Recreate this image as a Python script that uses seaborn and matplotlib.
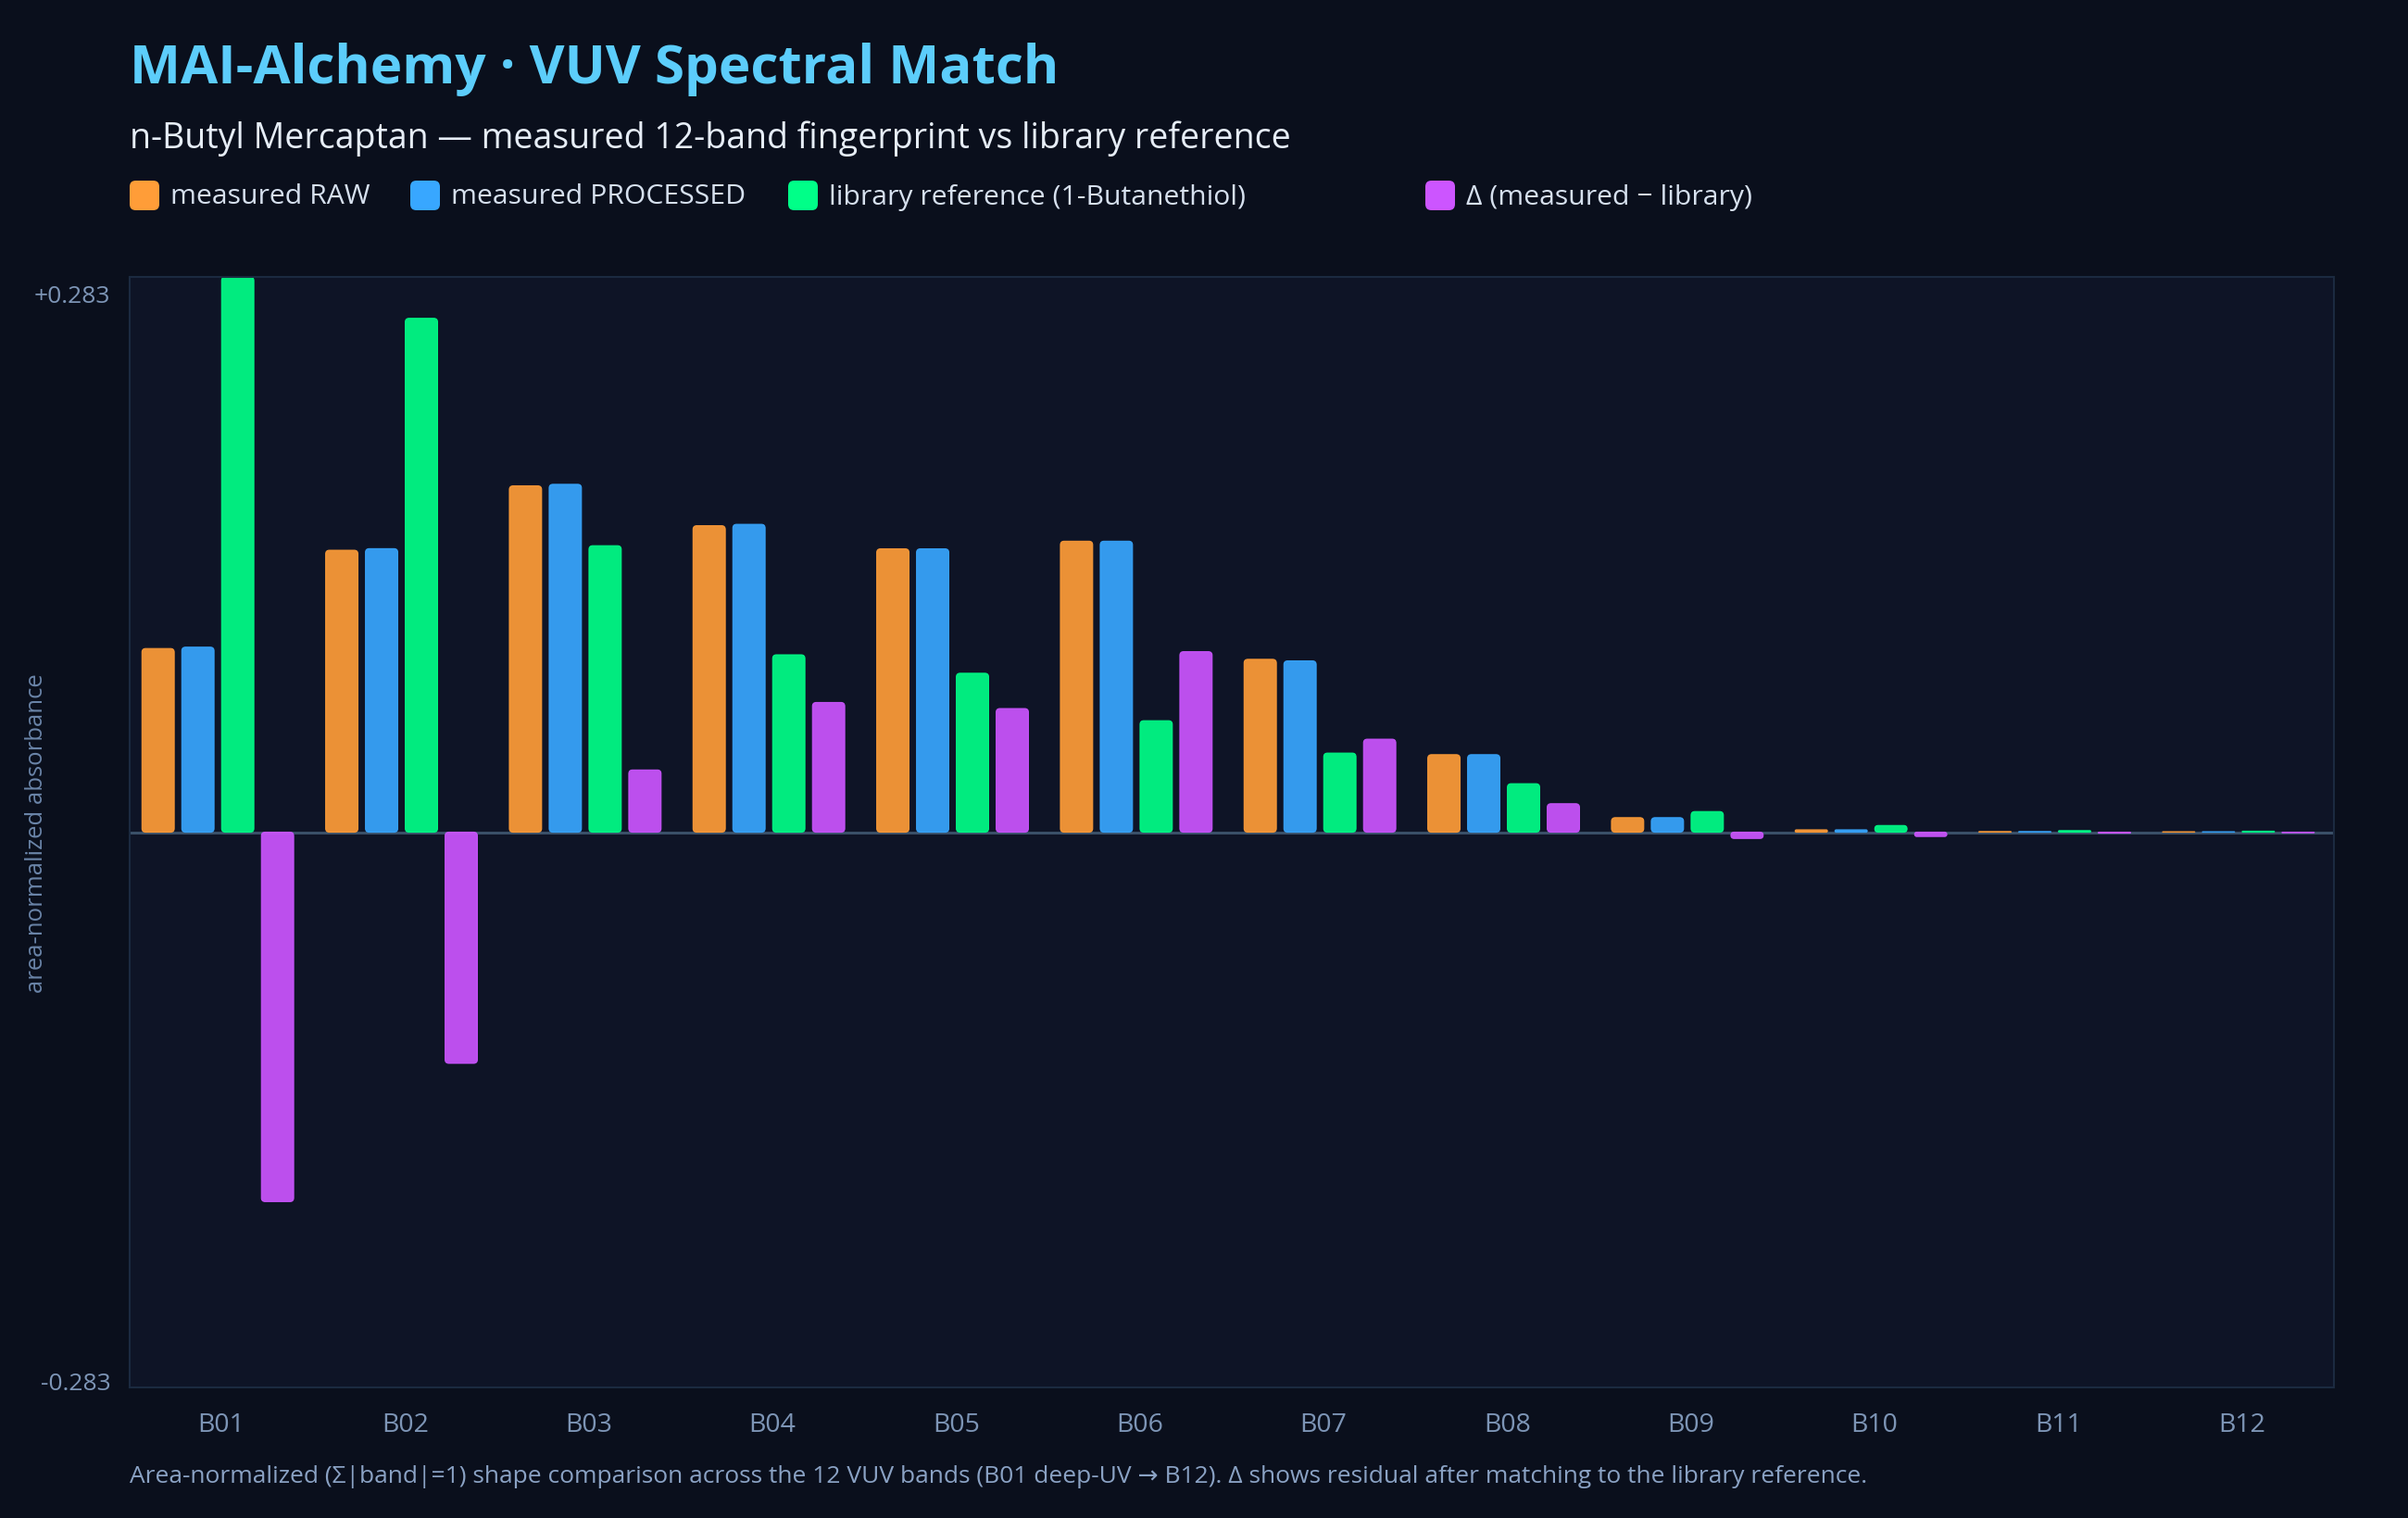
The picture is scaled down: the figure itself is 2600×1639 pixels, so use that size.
import numpy as np
import pandas as pd
import seaborn as sns
import matplotlib.pyplot as plt
from matplotlib.patches import FancyBboxPatch
from matplotlib.transforms import ScaledTranslation

# values
bands = ["B01", "B02", "B03", "B04", "B05", "B06", "B07", "B08", "B09", "B10", "B11", "B12"]
measured_raw = [0.0936, 0.1437, 0.1765, 0.1562, 0.1444, 0.1483, 0.0881, 0.0395, 0.0074, 0.0012, 0.0003, 0.0002]
measured_processed = [0.0943, 0.1445, 0.1773, 0.1569, 0.1444, 0.1483, 0.0873, 0.0395, 0.0074, 0.0012, 0.0003, 0.0002]
library_ref = [0.2830, 0.2619, 0.1460, 0.0904, 0.0810, 0.0568, 0.0403, 0.0247, 0.0105, 0.0034, 0.0008, 0.0005]
delta = [-0.1883, -0.1178, 0.0317, 0.0661, 0.0630, 0.0920, 0.0474, 0.0145, -0.0032, -0.0022, -0.0005, -0.0003]

series_names = ["measured RAW", "measured PROCESSED",
                "library reference (1-Butanethiol)", "\u0394 (measured \u2212 library)"]
series_colors = ["#ff9d38", "#38a7ff", "#00ff88", "#cc55ff"]
y_max = 0.283

BG = "#0a0f1c"
AX_BG = "#0e1426"
FONT = ["Open Sans", "DejaVu Sans"]

df = pd.DataFrame({
    "band": bands * 4,
    "value": measured_raw + measured_processed + library_ref + delta,
    "series": sum([[s] * len(bands) for s in series_names], []),
})

sns.set_theme(style="dark", rc={"axes.facecolor": AX_BG, "figure.facecolor": BG})
plt.rcParams["font.family"] = FONT

fig = plt.figure(figsize=(26, 16.4), dpi=100)
ax = fig.add_axes([140 / 2600, 1 - 1499 / 1640, 2380 / 2600, 1199 / 1640])

ax.axhline(0, color="#3a5068", lw=2.2, zorder=1.5)

sns.barplot(data=df, x="band", y="value", hue="series", hue_order=series_names,
            palette=series_colors, saturation=1, width=0.867, gap=0.19, alpha=0.92,
            legend=False, ax=ax, zorder=2)

ax.set_xlim(-0.5, len(bands) - 0.5)
ax.set_ylim(-y_max, y_max)

# rounded bar corners (radius ~4px), groups sit a touch left of the tick
x_per_px = len(bands) / 2380
y_per_px = 2 * y_max / 1199
aspect = y_per_px / x_per_px
r_px = 4
shift = -0.02
for p in list(ax.patches):
    x, y = p.get_x() + shift, p.get_y()
    w, h = p.get_width(), p.get_height()
    y0 = min(y, y + h)
    h = abs(h)
    r = min(r_px * x_per_px, w / 2, h / aspect / 2)
    fb = FancyBboxPatch((x, y0), w, h, boxstyle=f"round,pad=0,rounding_size={r}",
                        mutation_aspect=aspect, facecolor=p.get_facecolor(),
                        edgecolor=p.get_facecolor(), lw=0.8, zorder=2)
    p.remove()
    ax.add_patch(fb)

for s in ax.spines.values():
    s.set_color("#1b2a40")
    s.set_linewidth(1.5)

ax.set_yticks([-y_max, y_max])
ax.set_yticklabels([f"-{y_max:.3f}", f"+{y_max:.3f}"])
ax.tick_params(axis="y", length=0, pad=15, labelsize=19, labelcolor="#7d95b6")
ax.tick_params(axis="x", length=0, pad=19, labelsize=20.5, labelcolor="#7d95b6")
nudge = ScaledTranslation(0, -0.08, fig.dpi_scale_trans)
for tick, va in zip(ax.yaxis.get_major_ticks(), ["bottom", "top"]):
    tick.label1.set_va(va)
    tick.label1.set_transform(tick.label1.get_transform() + nudge)
ax.set_xlabel("")
ax.set_ylabel("area-normalized absorbance", fontsize=18.5, color="#6a84a8")
ax.yaxis.set_label_coords(-100 / 2380, 0.5)
ax.yaxis.label.set_va("center")
ax.grid(False)

# header
fig.text(140 / 2600, 1 - 75 / 1640, "MAI-Alchemy \u00b7 VUV Spectral Match",
         fontsize=42, fontweight="bold", color="#5ccdfb", va="center", ha="left")
fig.text(140 / 2600, 1 - 150 / 1640,
         "n-Butyl Mercaptan \u2014 measured 12-band fingerprint vs library reference",
         fontsize=27, color="#e6edf6", va="center", ha="left")

# legend row
swatch_x = [140, 443, 851, 1539]
for sx, name, col in zip(swatch_x, series_names, series_colors):
    fig.patches.append(FancyBboxPatch((sx / 2600, 1 - 228 / 1640), 32 / 2600, 32 / 1640,
                                      boxstyle="round,pad=0,rounding_size=0.0025",
                                      mutation_aspect=2600 / 1640,
                                      transform=fig.transFigure, facecolor=col,
                                      edgecolor="none"))
    fig.text((sx + 44) / 2600, 1 - 213 / 1640, name, fontsize=21.7, color="#d6e0ee",
             va="center", ha="left")

fig.text(140 / 2600, 1 - 1595 / 1640,
         "Area-normalized (\u03a3|band|=1) shape comparison across the 12 VUV bands "
         "(B01 deep-UV \u2192 B12). \u0394 shows residual after matching to the library reference.",
         fontsize=19, color="#8aa2c4", va="center", ha="left")

fig.savefig("out.png", dpi=100, facecolor=BG)
